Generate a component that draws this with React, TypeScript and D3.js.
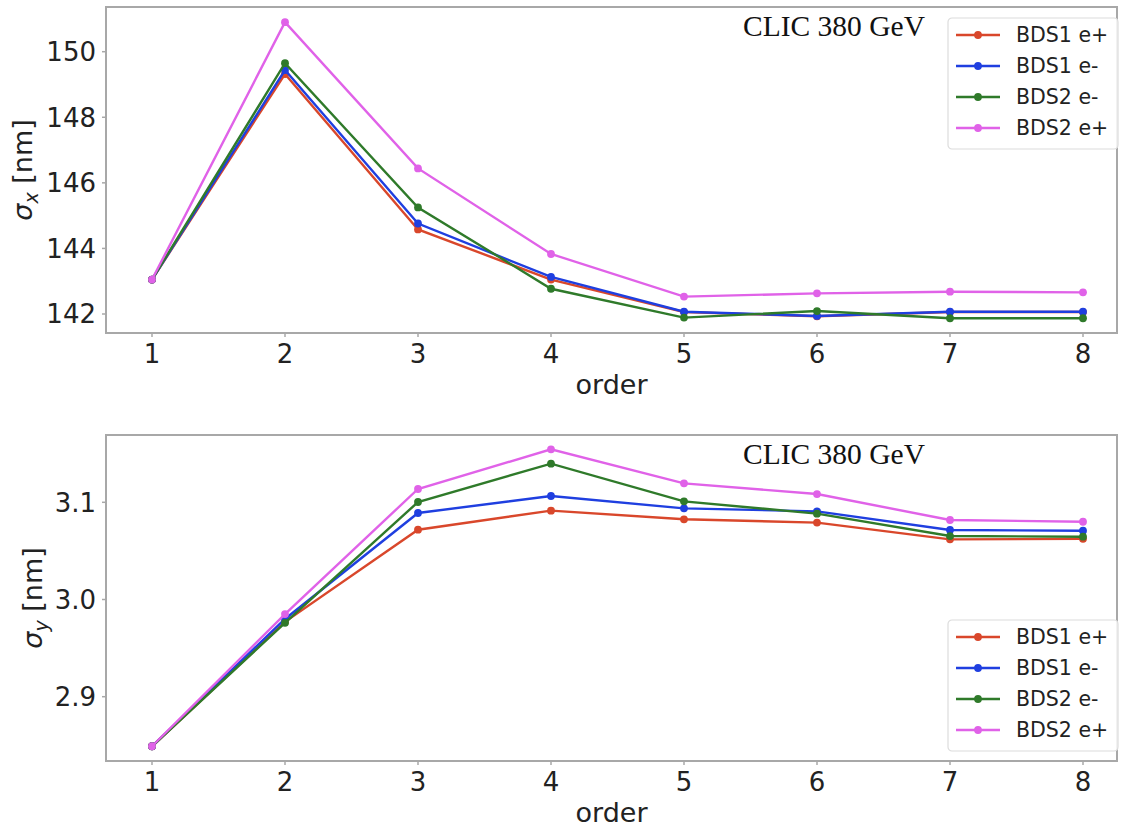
import React from "react";
import * as d3 from "d3";

const orders = [1, 2, 3, 4, 5, 6, 7, 8];
const seriesNames = ["BDS1 e+", "BDS1 e-", "BDS2 e-", "BDS2 e+"];
const seriesColors = ["#d9472b", "#1f3fe0", "#2f7a2a", "#e062e8"];

// sigma_x [nm]
const sx_BDS1_ep = [143.05, 149.32, 144.58, 143.05, 142.06, 141.93, 142.06, 142.06];
const sx_BDS1_em = [143.05, 149.44, 144.76, 143.13, 142.07, 141.94, 142.07, 142.07];
const sx_BDS2_em = [143.05, 149.65, 145.25, 142.77, 141.89, 142.09, 141.87, 141.87];
const sx_BDS2_ep = [143.05, 150.9, 146.44, 143.83, 142.53, 142.63, 142.68, 142.66];

// sigma_y [nm]
const sy_BDS1_ep = [2.849, 2.977, 3.0718, 3.0914, 3.0825, 3.0791, 3.0619, 3.0624];
const sy_BDS1_em = [2.849, 2.980, 3.089, 3.1065, 3.0938, 3.0907, 3.0715, 3.0708];
const sy_BDS2_em = [2.849, 2.976, 3.1003, 3.1397, 3.101, 3.0883, 3.0653, 3.0646];
const sy_BDS2_ep = [2.849, 2.985, 3.1137, 3.1545, 3.1195, 3.1085, 3.0818, 3.080];

const xTicks = [1, 2, 3, 4, 5, 6, 7, 8];
const yTicksTop = [142, 144, 146, 148, 150];
const yTicksBottom = [2.9, 3.0, 3.1];

const SANS = "'DejaVu Sans', sans-serif";
const SERIF = "'Liberation Serif', 'Times New Roman', serif";
const SPINE = "#a8a8a8";

type PanelProps = {
  top: number;
  bottom: number;
  yDomain: [number, number];
  yRange: [number, number];
  yTicks: number[];
  yFmt: (v: number) => string;
  series: number[][];
  ylabelSub: string;
  ylabelX: number;
  legendTop: number;
};

function Panel(p: PanelProps) {
  const left = 106;
  const right = 1117;
  const x = d3.scaleLinear().domain([1, 8]).range([152, 1083]);
  const y = d3.scaleLinear().domain(p.yDomain).range(p.yRange);
  const line = d3
    .line<number>()
    .x((_, i) => x(orders[i]))
    .y((v) => y(v));
  const ylabelY = (p.top + p.bottom) / 2;
  const legendLeft = 948;
  const legendW = 170;
  const legendH = 131;
  return (
    <g>
      {p.series.map((s, si) => (
        <g key={si}>
          <path d={line(s) || ""} fill="none" stroke={seriesColors[si]} strokeWidth={2.4} />
          {s.map((v, i) => (
            <circle key={i} cx={x(orders[i])} cy={y(v)} r={3.9} fill={seriesColors[si]} />
          ))}
        </g>
      ))}
      <rect x={left} y={p.top} width={right - left} height={p.bottom - p.top} fill="none" stroke={SPINE} strokeWidth={2} />
      {xTicks.map((t) => (
        <g key={t}>
          <line x1={x(t)} x2={x(t)} y1={p.bottom} y2={p.bottom + 4} stroke={SPINE} strokeWidth={1.5} />
          <text x={x(t)} y={p.bottom + 30} textAnchor="middle" fontFamily={SANS} fontSize={26} fill="#222">
            {t}
          </text>
        </g>
      ))}
      {p.yTicks.map((t) => (
        <g key={t}>
          <line x1={left - 4} x2={left} y1={y(t)} y2={y(t)} stroke={SPINE} strokeWidth={1.5} />
          <text x={left - 10} y={y(t)} dy="0.36em" textAnchor="end" fontFamily={SANS} fontSize={26} fill="#222">
            {p.yFmt(t)}
          </text>
        </g>
      ))}
      <text x={(left + right) / 2} y={p.bottom + 61} textAnchor="middle" fontFamily={SANS} fontSize={27} fill="#222">
        order
      </text>
      <text
        transform={`translate(${p.ylabelX},${ylabelY}) rotate(-90)`}
        textAnchor="middle"
        fontFamily={SANS}
        fontSize={27}
        fill="#222"
      >
        <tspan fontStyle="italic">σ</tspan>
        <tspan fontStyle="italic" fontSize={19} dy={6}>{p.ylabelSub}</tspan>
        <tspan dy={-6}> [nm]</tspan>
      </text>
      <text x={834} y={p.top + 29} textAnchor="middle" fontFamily={SERIF} fontSize={29.5} fill="#111">
        CLIC 380 GeV
      </text>
      <g transform={`translate(${legendLeft},${p.legendTop})`}>
        <rect x={0} y={0} width={legendW} height={legendH} rx={4} fill="white" fillOpacity={0.85} stroke="#dcdcdc" strokeWidth={1.2} />
        {seriesNames.map((n, i) => {
          const cy = 17 + i * 31;
          return (
            <g key={n}>
              <line x1={8} x2={52} y1={cy} y2={cy} stroke={seriesColors[i]} strokeWidth={2.4} />
              <circle cx={30} cy={cy} r={3.9} fill={seriesColors[i]} />
              <text x={68} y={cy} dy="0.36em" fontFamily={SANS} fontSize={20.5} fill="#222">
                {n}
              </text>
            </g>
          );
        })}
      </g>
    </g>
  );
}

export default function App() {
  return (
    <svg
      width={1123}
      height={827}
      style={{ position: "absolute", left: 0, top: 0, background: "white" }}
    >
      <rect x={0} y={0} width={1123} height={827} fill="white" />
      <Panel
        top={7}
        bottom={333}
        yDomain={[142, 150]}
        yRange={[314, 51.7]}
        yTicks={yTicksTop}
        yFmt={(v) => d3.format("d")(v)}
        series={[sx_BDS1_ep, sx_BDS1_em, sx_BDS2_em, sx_BDS2_ep]}
        ylabelSub="x"
        ylabelX={32}
        legendTop={18}
      />
      <Panel
        top={435}
        bottom={761}
        yDomain={[2.9, 3.1]}
        yRange={[696.7, 502.3]}
        yTicks={yTicksBottom}
        yFmt={(v) => d3.format(".1f")(v)}
        series={[sy_BDS1_ep, sy_BDS1_em, sy_BDS2_em, sy_BDS2_ep]}
        ylabelSub="y"
        ylabelX={42}
        legendTop={620}
      />
    </svg>
  );
}
